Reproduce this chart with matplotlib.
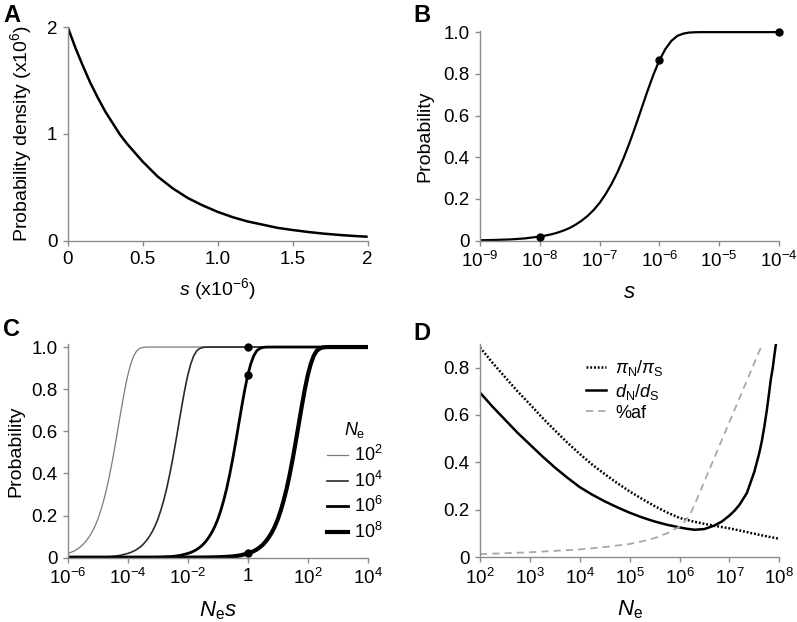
import numpy as np
import matplotlib
matplotlib.use("Agg")
import matplotlib.pyplot as plt
from matplotlib.ticker import NullLocator

plt.rcParams['font.family'] = ['Liberation Sans', 'DejaVu Sans']
plt.rcParams['mathtext.fontset'] = 'custom'
plt.rcParams['mathtext.rm'] = 'Liberation Sans'
plt.rcParams['mathtext.it'] = 'Liberation Sans:italic'
plt.rcParams['mathtext.default'] = 'regular'

# ---------------- Data ----------------
# Panel A: probability density of s (x1e-6) vs density (x1e6)
a_s = [0.0, 0.05, 0.1, 0.15, 0.2, 0.25, 0.3, 0.35, 0.4, 0.5, 0.6, 0.7, 0.8, 0.9, 1.0,
       1.1, 1.2, 1.3, 1.4, 1.5, 1.6, 1.7, 1.8, 1.9, 2.0]
a_density = [2.00, 1.81, 1.64, 1.48, 1.34, 1.21, 1.10, 0.99, 0.90, 0.74, 0.60, 0.49,
             0.40, 0.33, 0.27, 0.22, 0.18, 0.15, 0.12, 0.10, 0.082, 0.067, 0.055,
             0.045, 0.037]

# Panel B: cumulative probability vs s (log10 exponents of s)
b_log_s = [-14, -12, -10, -9.5, -9.25, -9, -8.75, -8.5, -8.25, -8, -7.9, -7.8, -7.7,
           -7.6, -7.5, -7.4, -7.3, -7.2, -7.1, -7.0,
           -6.9, -6.8, -6.7, -6.6, -6.5, -6.4, -6.3, -6.2, -6.1, -6.0,
           -5.9, -5.8, -5.7, -5.6, -5.5, -5.4, -5.3, -5.0, -4.0, -2.0, 0.0, 2.0]
b_prob = [0.0, 0.0, 0.0002, 0.0006, 0.0011, 0.002, 0.0036, 0.006, 0.011, 0.020,
          0.025, 0.031, 0.039, 0.049, 0.061, 0.077, 0.096, 0.119, 0.147, 0.181,
          0.223, 0.272, 0.329, 0.395, 0.469, 0.549, 0.633, 0.717, 0.796, 0.865,
          0.919, 0.958, 0.982, 0.993, 0.998, 0.9995, 1.0, 1.0, 1.0, 1.0, 1.0, 1.0]
mark_s = [1e-8, 1e-6, 1e-4]
mark_p = [0.02, 0.865, 1.0]

# Panel C: effective population sizes
c_Ne = [1e2, 1e4, 1e6, 1e8]
c_labels = ['10$^{2}$', '10$^{4}$', '10$^{6}$', '10$^{8}$']
mark_Ne = [1e8, 1e6, 1e4]

# Panel D: ratios vs Ne (log10 exponents)
d_pi_logNe = [2, 2.25, 2.5, 2.75, 3, 3.25, 3.5, 3.75, 4, 4.25, 4.5, 4.75, 5, 5.25,
              5.5, 5.75, 6, 6.25, 6.5, 6.75, 7, 7.25, 7.5, 7.75, 8]
d_pi = [0.885, 0.82, 0.76, 0.70, 0.645, 0.588, 0.535, 0.483, 0.435, 0.39, 0.35,
        0.312, 0.277, 0.245, 0.215, 0.188, 0.165, 0.151, 0.14, 0.13, 0.121, 0.11,
        0.098, 0.087, 0.077]
d_dn_logNe = [2, 2.25, 2.5, 2.75, 3, 3.25, 3.5, 3.75, 4, 4.25, 4.5, 4.75, 5, 5.25,
              5.5, 5.75, 6, 6.15, 6.3, 6.5, 6.7, 6.85, 7.0, 7.1, 7.2, 7.35, 7.5,
              7.6, 7.65, 7.7, 7.75, 7.8, 7.83, 7.87, 7.9, 7.93]
d_dn = [0.694, 0.635, 0.58, 0.525, 0.475, 0.425, 0.378, 0.335, 0.295, 0.263, 0.235,
        0.21, 0.187, 0.167, 0.15, 0.136, 0.125, 0.119, 0.115, 0.118, 0.133, 0.15,
        0.175, 0.195, 0.22, 0.27, 0.36, 0.44, 0.49, 0.55, 0.62, 0.70, 0.75, 0.80,
        0.85, 0.895]
d_af_logNe = [2, 2.5, 3, 3.5, 4, 4.5, 5, 5.25, 5.5, 5.75, 6, 6.1, 6.2, 6.3, 6.4,
              6.5, 6.6, 6.7, 6.8, 6.9, 7.0, 7.1, 7.2, 7.3, 7.4, 7.5, 7.6, 7.66]
d_af = [0.012, 0.016, 0.02, 0.026, 0.032, 0.042, 0.055, 0.066, 0.08, 0.10, 0.128,
        0.15, 0.175, 0.22, 0.27, 0.32, 0.37, 0.42, 0.47, 0.52, 0.57, 0.62, 0.67,
        0.72, 0.77, 0.82, 0.87, 0.895]

# ---------------- Figure ----------------
fig = plt.figure(figsize=(7.97, 6.22), dpi=100)
W, H = 797, 622

def add_ax(left, right, top, bottom):
    return fig.add_axes([left / W, 1 - bottom / H, (right - left) / W, (bottom - top) / H])

spine_col = '#8c8c8c'
TICK_FS = 13.5
LAB_FS = 14
def style(ax):
    for sp in ['top', 'right']:
        ax.spines[sp].set_visible(False)
    for sp in ['left', 'bottom']:
        ax.spines[sp].set_color(spine_col)
        ax.spines[sp].set_linewidth(1.0)
    ax.tick_params(axis='both', which='major', length=3.5, width=1.0,
                   color=spine_col, labelsize=TICK_FS, pad=4)
    ax.tick_params(axis='both', which='minor', length=0)

# Panel A
axA = add_ax(67.7, 367.7, 27, 240.7)
style(axA)
axA.plot(a_s, a_density, color='black', lw=1.8, solid_capstyle='butt')
axA.set_xlim(0, 2)
axA.set_ylim(0, 2)
axA.set_xticks([0, 0.5, 1.0, 1.5, 2])
axA.set_xticklabels(['0', '0.5', '1.0', '1.5', '2'])
axA.set_yticks([0, 1, 2])
axA.set_yticklabels(['0', '1', '2'])
axA.set_ylabel('Probability density (x10$^{6}$)', fontsize=LAB_FS, labelpad=9)
axA.set_xlabel('$\\mathit{s}$ (x10$^{-6}$)', fontsize=LAB_FS, labelpad=6)

# Panel B
b_s = [10.0 ** e for e in b_log_s]
axB = add_ax(480, 779, 31.3, 240.7)
style(axB)
axB.plot(b_s, b_prob, color='black', lw=1.6)
axB.plot(mark_s, mark_p, 'o', color='black', ms=5, clip_on=False, zorder=5)
axB.set_xscale('log')
axB.set_xlim(1e-9, 1e-4)
axB.set_ylim(0, 1.004)
axB.set_xticks([1e-9, 1e-8, 1e-7, 1e-6, 1e-5, 1e-4])
axB.set_xticklabels(['10$^{-9}$', '10$^{-8}$', '10$^{-7}$', '10$^{-6}$',
                     '10$^{-5}$', '10$^{-4}$'])
axB.xaxis.set_minor_locator(NullLocator())
axB.set_yticks([0, 0.2, 0.4, 0.6, 0.8, 1.0])
axB.set_yticklabels(['0', '0.2', '0.4', '0.6', '0.8', '1.0'])
axB.set_ylabel('Probability', fontsize=LAB_FS, labelpad=7)
axB.set_xlabel('$\\mathit{s}$', fontsize=16, labelpad=8)

# Panel C
axC = add_ax(67.7, 367.7, 344.3, 557.7)
style(axC)
c_styles = [dict(color='#7a7a7a', lw=0.9), dict(color='#2a2a2a', lw=1.2),
            dict(color='black', lw=2.0), dict(color='black', lw=3.0)]
for Ne, lab, st in zip(c_Ne, c_labels, c_styles):
    axC.plot([Ne * s for s in b_s], b_prob, label=lab, **st)
axC.plot([Ne * s for Ne, s in zip(mark_Ne, mark_s)], mark_p, 'o',
         color='black', ms=5, zorder=5, clip_on=False)
axC.set_xscale('log')
axC.set_xlim(1e-6, 1e4)
axC.set_ylim(0, 1.013)
axC.set_xticks([1e-6, 1e-4, 1e-2, 1, 1e2, 1e4])
axC.set_xticklabels(['10$^{-6}$', '10$^{-4}$', '10$^{-2}$', '1', '10$^{2}$', '10$^{4}$'])
axC.xaxis.set_minor_locator(NullLocator())
axC.set_yticks([0, 0.2, 0.4, 0.6, 0.8, 1.0])
axC.set_yticklabels(['0', '0.2', '0.4', '0.6', '0.8', '1.0'])
axC.set_ylabel('Probability', fontsize=LAB_FS, labelpad=5)
axC.set_xlabel('$\\mathit{N}_{e}\\mathit{s}$', fontsize=16, labelpad=8)
legC = axC.legend(loc='center left', bbox_to_anchor=(0.835, 0.36), frameon=False,
                  fontsize=13, handlelength=1.15, handletextpad=0.35,
                  labelspacing=0.3, borderpad=0, title='$\\mathit{N}_{e}$',
                  title_fontsize=13)

# Panel D
axD = add_ax(480, 779.3, 344.3, 557)
style(axD)
pi_x = [10.0 ** e for e in d_pi_logNe]
dn_x = [10.0 ** e for e in d_dn_logNe]
af_x = [10.0 ** e for e in d_af_logNe]
axD.plot(pi_x, d_pi, color='black', lw=1.8, dashes=[0.75, 0.75],
         dash_capstyle='butt', label='$\\mathit{\\pi}_{N}/\\mathit{\\pi}_{S}$')
axD.plot(dn_x, d_dn, color='black', lw=1.8, label='$\\mathit{d}_{N}/\\mathit{d}_{S}$')
axD.plot(af_x, d_af, color='#a8a8a8', lw=1.3, dashes=[4.0, 2.8], label='%af')
axD.set_xscale('log')
axD.set_xlim(1e2, 1e8)
axD.set_ylim(0, 0.898)
axD.set_xticks([1e2, 1e3, 1e4, 1e5, 1e6, 1e7, 1e8])
axD.set_xticklabels(['10$^{2}$', '10$^{3}$', '10$^{4}$', '10$^{5}$', '10$^{6}$',
                     '10$^{7}$', '10$^{8}$'])
axD.xaxis.set_minor_locator(NullLocator())
axD.set_yticks([0, 0.2, 0.4, 0.6, 0.8])
axD.set_yticklabels(['0', '0.2', '0.4', '0.6', '0.8'])
axD.set_xlabel('$\\mathit{N}_{e}$', fontsize=16, labelpad=8)
axD.legend(loc='center left', bbox_to_anchor=(0.325, 0.785), frameon=False,
           fontsize=13, handlelength=1.1, handletextpad=0.5,
           labelspacing=0.18, borderpad=0)

# Panel letters
for lab, x, y in [('A', 3, 4), ('B', 413, 4), ('C', 3, 318), ('D', 413, 322)]:
    fig.text(x / W, 1 - y / H, lab, fontsize=17, fontweight='bold', va='top', ha='left')

fig.savefig('out.png', dpi=100)
